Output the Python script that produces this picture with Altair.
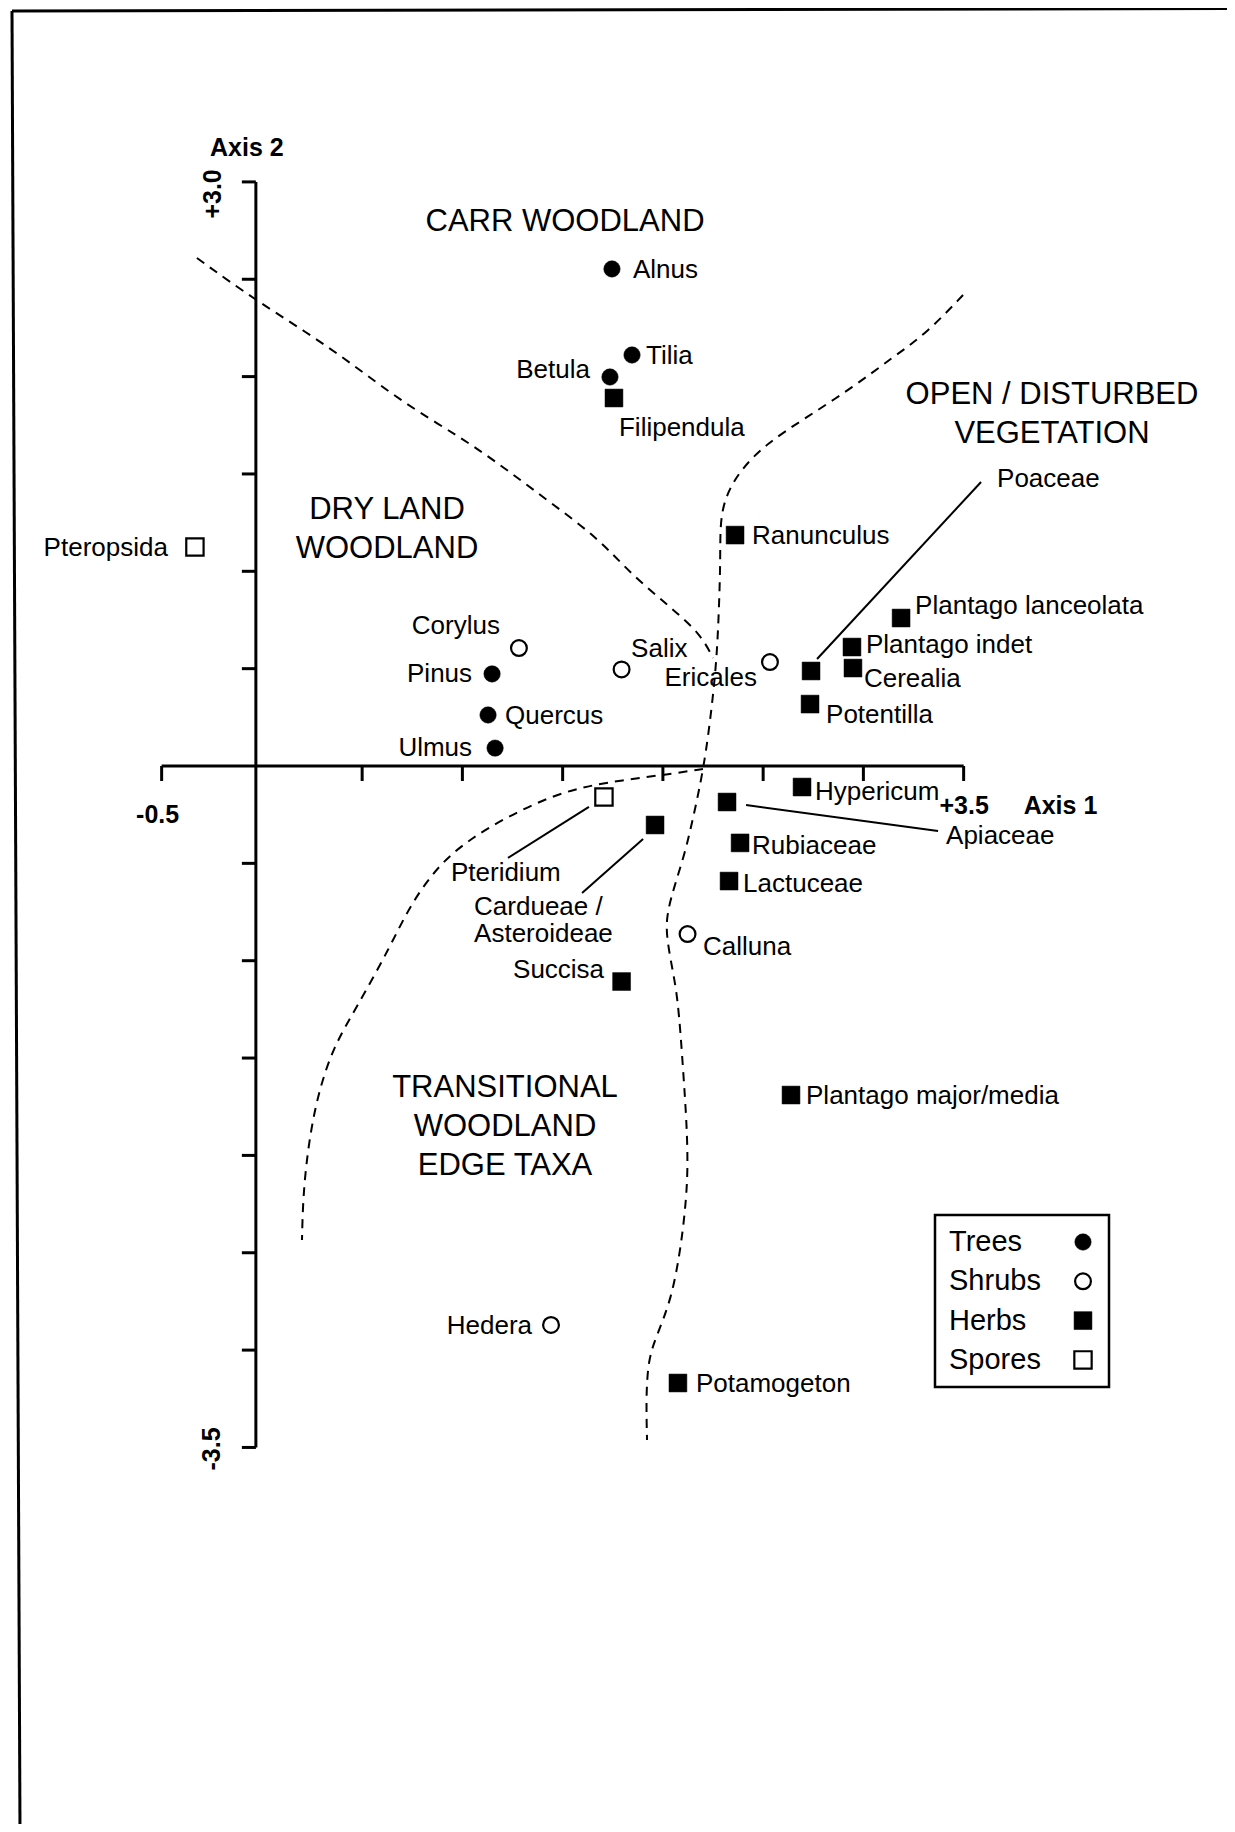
import altair as alt
import pandas as pd

# ---------------- data: ordination scores ----------------
tree_names = ["Alnus", "Tilia", "Betula", "Pinus", "Quercus", "Ulmus"]
tree_x = [1.746, 1.846, 1.736, 1.148, 1.128, 1.163]
tree_y = [2.553, 2.111, 1.998, 0.473, 0.262, 0.092]

shrub_names = ["Corylus", "Salix", "Ericales", "Calluna", "Hedera"]
shrub_x = [1.282, 1.794, 2.534, 2.123, 1.442]
shrub_y = [0.606, 0.496, 0.534, -0.863, -2.871]

herb_names = ["Filipendula", "Ranunculus", "Plantago lanceolata", "Plantago indet",
              "Cerealia", "Poaceae", "Potentilla", "Hypericum", "Apiaceae",
              "Rubiaceae", "Lactuceae", "Cardueae / Asteroideae", "Succisa",
              "Plantago major/media", "Potamogeton"]
herb_x = [1.756, 2.360, 3.188, 2.943, 2.948, 2.739, 2.734, 2.694, 2.320,
          2.385, 2.330, 1.961, 1.794, 2.639, 2.075]
herb_y = [1.890, 1.186, 0.760, 0.611, 0.503, 0.488, 0.318, -0.108, -0.185,
          -0.395, -0.591, -0.303, -1.107, -1.690, -3.169]

spore_names = ["Pteropsida", "Pteridium"]
spore_x = [-0.334, 1.706]
spore_y = [1.125, -0.159]

# dashed group boundaries (hand-drawn curves, in axis units)
b1_x = [-0.324, -0.034, 0.340, 0.658, 0.888, 1.048, 1.237, 1.442, 1.676, 1.836, 2.035, 2.185, 2.250]
b1_y = [2.609, 2.393, 2.152, 1.900, 1.751, 1.649, 1.510, 1.351, 1.171, 0.991, 0.817, 0.683, 0.555]
b2_x = [3.497, 3.317, 3.148, 2.948, 2.719, 2.519, 2.385, 2.310, 2.285, 2.287, 2.280, 2.270,
        2.250, 2.215, 2.181, 2.145, 2.110, 2.056, 2.021, 2.016, 2.041, 2.075, 2.100, 2.120,
        2.125, 2.110, 2.085, 2.041, 1.966, 1.926, 1.916, 1.921]
b2_y = [2.419, 2.224, 2.100, 1.946, 1.792, 1.659, 1.520, 1.382, 1.248, 1.058, 0.817, 0.580,
        0.354, 0.067, -0.123, -0.293, -0.447, -0.621, -0.755, -0.858, -1.012, -1.186, -1.546,
        -1.854, -2.090, -2.296, -2.501, -2.743, -2.933, -3.051, -3.256, -3.462]
b3_x = [2.200, 2.006, 1.721, 1.472, 1.222, 1.053, 0.888, 0.739, 0.639, 0.474, 0.355, 0.275,
        0.230, 0.205, 0.200]
b3_y = [-0.015, -0.046, -0.082, -0.139, -0.262, -0.365, -0.498, -0.714, -0.930, -1.238,
        -1.443, -1.700, -1.957, -2.214, -2.435]

region_lines = [["CARR WOODLAND"], ["DRY LAND", "WOODLAND"],
                ["OPEN / DISTURBED", "VEGETATION"], ["TRANSITIONAL", "WOODLAND", "EDGE TAXA"]]

x_ticks = [-0.5, 0.5, 1.0, 1.5, 2.0, 2.5, 3.0, 3.5]
y_ticks = [3.0, 2.5, 2.0, 1.5, 1.0, 0.5, -0.5, -1.0, -1.5, -2.0, -2.5, -3.0, -3.5]
x_end_labels = ["-0.5", "+3.5"]
y_end_labels = ["+3.0", "-3.5"]
axis_titles = ["Axis 1", "Axis 2"]
legend_groups = ["Trees", "Shrubs", "Herbs", "Spores"]

# ---------------- layout ----------------
W, H = 1219, 1816
X_DOM = [-1.2663, 4.8135]
Y_DOM = [-5.4340, 3.8932]
PXX = W / (X_DOM[1] - X_DOM[0])   # pixels per x unit
PXY = H / (Y_DOM[1] - Y_DOM[0])   # pixels per y unit
Y_AXIS_AT = -0.03                  # the drawn vertical axis sits just left of x = 0
FONT = "Liberation Sans"


def px2x(px):
    return X_DOM[0] + (px - 8) / PXX


def px2y(py):
    return Y_DOM[1] - (py - 8) / PXY


# label offsets in pixels (dx, dy, align)
label_offsets = {
    "Alnus": (21, 1, "left"), "Tilia": (14, 1, "left"), "Betula": (-20, -7, "right"),
    "Pinus": (-20, 0, "right"), "Quercus": (17, 1, "left"), "Ulmus": (-23, 0, "right"),
    "Corylus": (-19, -22, "right"), "Salix": (9.5, -20.5, "left"),
    "Ericales": (-13, 16, "right"), "Calluna": (15.5, 13, "left"), "Hedera": (-19, 1, "right"),
    "Filipendula": (5, 30, "left"), "Ranunculus": (17, 1, "left"),
    "Plantago lanceolata": (14, -12, "left"), "Plantago indet": (14, -2, "left"),
    "Cerealia": (11, 11, "left"), "Poaceae": (186, -192, "left"),
    "Potentilla": (16, 11, "left"), "Hypericum": (13, 5, "left"),
    "Apiaceae": (219, 34, "left"), "Rubiaceae": (12, 3, "left"), "Lactuceae": (14, 3, "left"),
    "Cardueae / Asteroideae": (-181, 82, "left"), "Succisa": (-17.5, -11.5, "right"),
    "Plantago major/media": (15, 1, "left"), "Potamogeton": (18, 1, "left"),
    "Pteropsida": (-27, 1, "right"), "Pteridium": (-153, 76, "left"),
}
LABEL_LINE = 27
leaders = {
    "Poaceae": (6, -12, 170, -189), "Apiaceae": (19, 3, 211, 29),
    "Cardueae / Asteroideae": (-12, 14, -73, 68), "Pteridium": (-15, 10, -96, 61),
}
# region title anchors (page pixels, first line centre) and line spacing
region_anchor = [(565, 222), (387, 510), (1052, 395), (505, 1088)]
REGION_LINE = 39
# legend box and rows (page pixels)
LEG_BOX = (935, 1215, 1109, 1387)
LEG_ROW0, LEG_ROW_STEP, LEG_TEXT_X, LEG_SYM_X = 1242, 39.3, 949, 1083

# ---------------- tables ----------------
groups = {
    "Trees": (tree_names, tree_x, tree_y),
    "Shrubs": (shrub_names, shrub_x, shrub_y),
    "Herbs": (herb_names, herb_x, herb_y),
    "Spores": (spore_names, spore_x, spore_y),
}
pts = pd.DataFrame([
    {"name": n, "x": x, "y": y, "group": g}
    for g, (ns, xs, ys) in groups.items() for n, x, y in zip(ns, xs, ys)
])

lab_rows, lead_rows = [], []
for _, r in pts.iterrows():
    dx, dy, al = label_offsets[r["name"]]
    lines = r["name"].replace(" / ", " /\n").split("\n")
    for i, t in enumerate(lines):
        lab_rows.append({"x": r["x"] + dx / PXX, "y": r["y"] - (dy + i * LABEL_LINE) / PXY,
                         "text": t, "anchor": al})
    if r["name"] in leaders:
        a, b, c, d = leaders[r["name"]]
        lead_rows.append({"x": r["x"] + a / PXX, "y": r["y"] - b / PXY,
                          "x2": r["x"] + c / PXX, "y2": r["y"] - d / PXY})
labels = pd.DataFrame(lab_rows)
lead_df = pd.DataFrame(lead_rows)

curves = pd.DataFrame(
    [{"curve": "b1", "i": i, "x": x, "y": y} for i, (x, y) in enumerate(zip(b1_x, b1_y))]
    + [{"curve": "b2", "i": i, "x": x, "y": y} for i, (x, y) in enumerate(zip(b2_x, b2_y))]
    + [{"curve": "b3", "i": i, "x": x, "y": y} for i, (x, y) in enumerate(zip(b3_x, b3_y))]
)

reg_rows = []
for lines, (ax, ay) in zip(region_lines, region_anchor):
    for i, t in enumerate(lines):
        reg_rows.append({"x": px2x(ax), "y": px2y(ay + i * REGION_LINE), "text": t})
regions = pd.DataFrame(reg_rows)

axis_df = pd.DataFrame([
    {"x": x_ticks[0], "y": 0, "x2": x_ticks[-1], "y2": 0},
    {"x": Y_AXIS_AT, "y": y_ticks[-1], "x2": Y_AXIS_AT, "y2": y_ticks[0]},
])
TICK = 15
ticks_df = pd.DataFrame(
    [{"x": t, "y": 0, "x2": t, "y2": -TICK / PXY} for t in x_ticks]
    + [{"x": Y_AXIS_AT - (TICK - 1) / PXX, "y": t, "x2": Y_AXIS_AT, "y2": t} for t in y_ticks]
)

frame_df = pd.DataFrame([
    {"x": px2x(12), "y": px2y(11), "x2": px2x(20), "y2": px2y(1832)},
    {"x": px2x(12), "y": px2y(11), "x2": px2x(1227), "y2": px2y(8.6)},
])

# axis end labels and titles, placed relative to the axis ends (pixel offsets)
horiz_labels = pd.DataFrame([
    {"x": x_ticks[0] - 4 / PXX, "y": -49 / PXY, "text": x_end_labels[0], "anchor": "center"},
    {"x": x_ticks[-1] + 0.5 / PXX, "y": -40 / PXY, "text": x_end_labels[1], "anchor": "center"},
    {"x": x_ticks[-1] + 60 / PXX, "y": -40 / PXY, "text": axis_titles[0], "anchor": "left"},
    {"x": Y_AXIS_AT - 9 / PXX, "y": y_ticks[0] + 34 / PXY, "text": axis_titles[1], "anchor": "center"},
])
vert_labels = pd.DataFrame([
    {"x": Y_AXIS_AT - 43 / PXX, "y": y_ticks[0] - 12 / PXY, "text": y_end_labels[0]},
    {"x": Y_AXIS_AT - 44 / PXX, "y": y_ticks[-1] - 1.5 / PXY, "text": y_end_labels[1]},
])

legend_box = pd.DataFrame([{"x": px2x(LEG_BOX[0]), "y": px2y(LEG_BOX[1]),
                            "x2": px2x(LEG_BOX[2]), "y2": px2y(LEG_BOX[3])}])
legend_df = pd.DataFrame([
    {"group": g, "tx": px2x(LEG_TEXT_X), "sx": px2x(LEG_SYM_X),
     "y": px2y(LEG_ROW0 + i * LEG_ROW_STEP)}
    for i, g in enumerate(legend_groups)
])

# ---------------- chart ----------------
XS = alt.Scale(domain=X_DOM, nice=False, zero=False)
YS = alt.Scale(domain=Y_DOM, nice=False, zero=False)


def X(f="x"):
    return alt.X(f"{f}:Q", scale=XS, axis=None)


def Y(f="y"):
    return alt.Y(f"{f}:Q", scale=YS, axis=None)


def seg(df, width, **kw):
    return alt.Chart(df).mark_rule(color="black", strokeWidth=width, **kw).encode(
        x=X(), y=Y(), x2="x2:Q", y2="y2:Q")


symbol_style = {
    "Trees": dict(shape="circle", filled=True, fill="black", stroke="black", strokeWidth=0.5, size=270),
    "Shrubs": dict(shape="circle", filled=True, fill="white", stroke="black", strokeWidth=2.2, size=250),
    "Herbs": dict(shape="square", filled=True, fill="black", stroke="black", strokeWidth=0.5, size=320),
    "Spores": dict(shape="square", filled=True, fill="white", stroke="black", strokeWidth=2.2, size=300),
}

layers = [
    seg(frame_df, 3),
    seg(axis_df, 3),
    seg(ticks_df, 3),
    alt.Chart(curves).mark_line(color="black", strokeWidth=2, strokeDash=[9, 7],
                                interpolate="basis").encode(
        x=X(), y=Y(), detail="curve:N", order="i:Q"),
    seg(lead_df, 2),
]
for g in legend_groups:
    layers.append(alt.Chart(pts[pts["group"] == g]).mark_point(opacity=1, **symbol_style[g])
                  .encode(x=X(), y=Y()))
for al in ["left", "right"]:
    layers.append(alt.Chart(labels[labels["anchor"] == al]).mark_text(
        font=FONT, fontSize=26, align=al, baseline="middle", color="black").encode(
        x=X(), y=Y(), text="text:N"))
layers.append(alt.Chart(regions).mark_text(
    font=FONT, fontSize=31, align="center", baseline="middle", color="black").encode(
    x=X(), y=Y(), text="text:N"))
for al in ["left", "center"]:
    layers.append(alt.Chart(horiz_labels[horiz_labels["anchor"] == al]).mark_text(
        font=FONT, fontSize=25, fontWeight="bold", align=al, baseline="middle",
        color="black").encode(x=X(), y=Y(), text="text:N"))
layers.append(alt.Chart(vert_labels).mark_text(
    font=FONT, fontSize=25, fontWeight="bold", align="center", baseline="middle",
    angle=270, color="black").encode(x=X(), y=Y(), text="text:N"))

# legend
layers.append(alt.Chart(legend_box).mark_rect(fill="white", stroke="black", strokeWidth=2.5)
              .encode(x=X(), y=Y(), x2="x2:Q", y2="y2:Q"))
layers.append(alt.Chart(legend_df).mark_text(
    font=FONT, fontSize=29, align="left", baseline="middle", color="black").encode(
    x=X("tx"), y=Y(), text="group:N"))
for g in legend_groups:
    layers.append(alt.Chart(legend_df[legend_df["group"] == g]).mark_point(
        opacity=1, **symbol_style[g]).encode(x=X("sx"), y=Y()))

chart = alt.layer(*layers).properties(
    width=W, height=H, padding=0,
    autosize=alt.AutoSizeParams(type="none"),
    background="white",
).configure_view(stroke=None)

chart.save("out.html", embed_options={"renderer": "svg", "actions": False})
